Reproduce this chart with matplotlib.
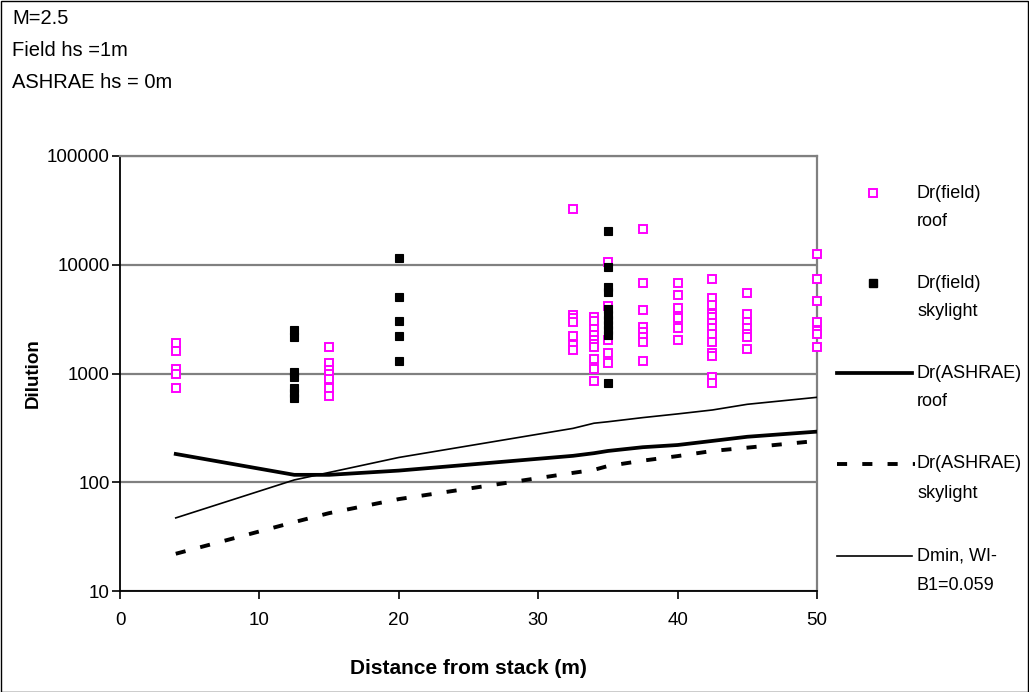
import matplotlib
matplotlib.use("Agg")
import matplotlib.pyplot as plt
from matplotlib.lines import Line2D
from matplotlib.patches import Rectangle
from matplotlib.ticker import FixedLocator, FixedFormatter, NullLocator

plt.rcParams['font.family'] = ['Liberation Sans', 'DejaVu Sans']

# field measurements, grouped by distance (m)
roof_x = [4, 15, 32.5, 34, 35, 37.5, 40, 42.5, 45, 50]
roof_y = [
    [1900, 1600, 1100, 1000, 730],
    [1740, 1240, 1080, 990, 885, 730, 620],
    [32400, 3450, 3220, 2960, 2230, 1830, 1640],
    [3330, 3060, 2550, 2260, 2030, 1870, 1760, 1350, 1100, 860],
    [10500, 4200, 2030, 1540, 1250],
    [21300, 6750, 3840, 2690, 2420, 2180, 1960, 1300],
    [6790, 5270, 3980, 3380, 3220, 2610, 2050],
    [7350, 4910, 4270, 3500, 3330, 2930, 2640, 2290, 1960, 1550, 1450, 935, 823],
    [5500, 3500, 3000, 2610, 2310, 2180, 1670],
    [12560, 7350, 4670, 2980, 2480, 2310, 1740],
]
sky_x = [12.5, 20, 35]
sky_y = [
    [2510, 2180, 1040, 920, 730, 660, 590],
    [11460, 5030, 3060, 2210, 1310],
    [20570, 9490, 6280, 5650, 3890, 3450, 3110, 2790, 2510, 2260, 820],
]

# ASHRAE / Dmin curves
line_x = [4, 12.5, 15, 20, 32.5, 34, 35, 37.5, 40, 42.5, 45, 50]
ashrae_roof = [182, 117, 117, 128, 175, 185, 194, 210, 220, 240, 262, 292]
ashrae_sky = [22, 43, 52, 70, 122, 130, 141, 158, 174, 194, 208, 240]
dmin = [47, 105, 123, 169, 313, 349, 360, 393, 425, 462, 521, 604]

W, H = 1029, 692
fig = plt.figure(figsize=(W / 100, H / 100), dpi=100)
ax = fig.add_axes([120 / W, 1 - 591 / H, (817 - 120) / W, (591 - 156) / H])

grey = '#808080'
pink = '#FF00FF'

def flat(xs, ys):
    px, py = [], []
    for x, col in zip(xs, ys):
        for v in col:
            px.append(x)
            py.append(v)
    return px, py

rx, ry = flat(roof_x, roof_y)
sx, sy = flat(sky_x, sky_y)

ax.plot(line_x, dmin, color='black', lw=1.2, zorder=3)
ax.plot(line_x, ashrae_roof, color='black', lw=2.7, zorder=3)
ax.plot(line_x, ashrae_sky, color='black', lw=2.8, dashes=(2.6, 3.9), zorder=3)
ax.plot(rx, ry, 's', ms=5.5, mfc='white', mec=pink, mew=1.4, ls='none', zorder=4,
        clip_on=False)
ax.plot(sx, sy, 's', ms=5.6, mfc='black', mec='black', mew=0.8, ls='none', zorder=5,
        clip_on=False)

ax.set_yscale('log')
ax.set_ylim(10, 100000)
ax.set_xlim(0, 50)
yt = [10, 100, 1000, 10000, 100000]
ax.yaxis.set_major_locator(FixedLocator(yt))
ax.yaxis.set_major_formatter(FixedFormatter([str(v) for v in yt]))
ax.yaxis.set_minor_locator(NullLocator())
ax.set_xticks([0, 10, 20, 30, 40, 50])
ax.tick_params(axis='both', direction='out', length=6, width=1.2, labelsize=13.5,
               colors='black')
ax.tick_params(axis='y', pad=1.5)
ax.tick_params(axis='x', pad=9)

ax.grid(axis='y', color=grey, lw=1.6)
ax.set_axisbelow(True)
for s in ['top', 'right']:
    ax.spines[s].set_color(grey)
    ax.spines[s].set_linewidth(1.6)
for s in ['left', 'bottom']:
    ax.spines[s].set_color('black')
    ax.spines[s].set_linewidth(1.3)

fig.text(33 / W, 1 - 373 / H, 'Dilution', rotation=90, ha='center', va='center',
         fontsize=13.5, fontweight='bold')
fig.text(468 / W, 1 - 668 / H, 'Distance from stack (m)', ha='center', va='center',
         fontsize=15, fontweight='bold')

# notes top left
for i, t in enumerate(['M=2.5', 'Field hs =1m', 'ASHRAE hs = 0m']):
    fig.text(12 / W, 1 - (18 + 32 * i) / H, t, ha='left', va='center', fontsize=14.5)

# legend drawn by hand so handles sit on the first text line
def fx(p):
    return p / W

def fy(p):
    return 1 - p / H

leg = [
    ('m', 193, 'Dr(field)', 'roof'),
    ('k', 283, 'Dr(field)', 'skylight'),
    ('thick', 373, 'Dr(ASHRAE)', 'roof'),
    ('dash', 464, 'Dr(ASHRAE)', 'skylight'),
    ('thin', 556, 'Dmin, WI-', 'B1=0.059'),
]
for kind, yy, t1, t2 in leg:
    if kind == 'm':
        fig.add_artist(Line2D([fx(873)], [fy(yy)], marker='s', ms=5.5, mfc='white',
                              mec=pink, mew=1.4, transform=fig.transFigure))
    elif kind == 'k':
        fig.add_artist(Line2D([fx(873)], [fy(yy)], marker='s', ms=5.6, mfc='black',
                              mec='black', transform=fig.transFigure))
    elif kind == 'thick':
        fig.add_artist(Line2D([fx(837), fx(912)], [fy(yy), fy(yy)], color='black',
                              lw=2.7, transform=fig.transFigure))
    elif kind == 'dash':
        fig.add_artist(Line2D([fx(837), fx(915)], [fy(yy), fy(yy)], color='black',
                              lw=2.8, dashes=(2.6, 3.9), transform=fig.transFigure))
    else:
        fig.add_artist(Line2D([fx(837), fx(912)], [fy(yy), fy(yy)], color='black',
                              lw=1.2, transform=fig.transFigure))
    fig.text(fx(917), fy(yy), t1, ha='left', va='center', fontsize=13)
    fig.text(fx(917), fy(yy + 29), t2, ha='left', va='center', fontsize=13)

# outer chart border
fig.add_artist(Rectangle((0.5 / W, 0.5 / H), 1 - 1.5 / W, 1 - 1.5 / H, fill=False,
                         ec='black', lw=1.0, transform=fig.transFigure))

fig.savefig('out.png', dpi=100)
